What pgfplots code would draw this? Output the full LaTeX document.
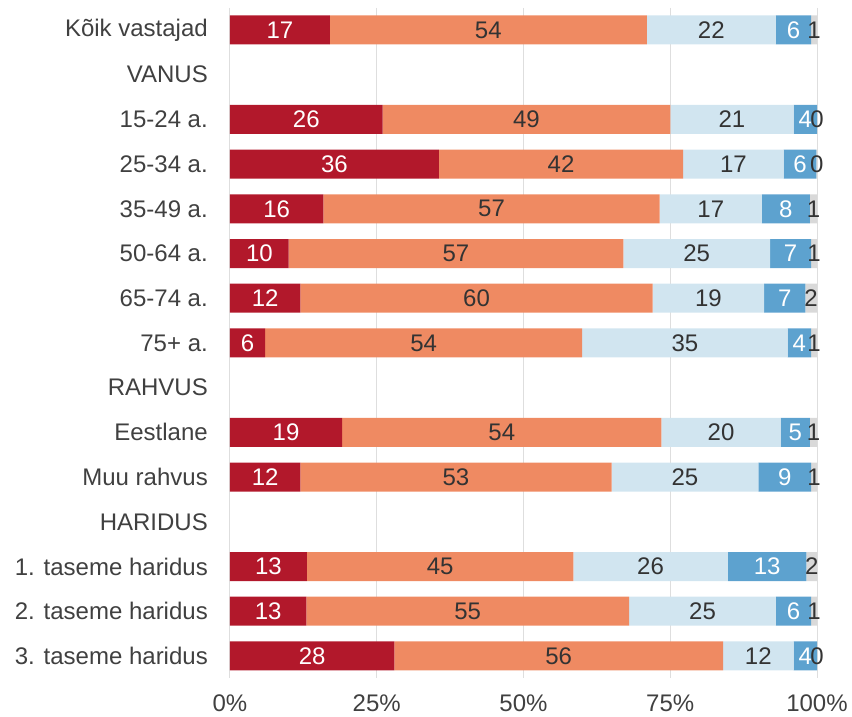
\documentclass[border=0pt]{standalone}
\usepackage{pgfplots}
\pgfplotsset{compat=1.18}
\usepackage{pgfplotstable}
\usepackage{fontspec}
\setmainfont{Liberation Sans}
\definecolor{cRed}{HTML}{B2182B}
\definecolor{cOrange}{HTML}{EF8A62}
\definecolor{cLight}{HTML}{D1E5F0}
\definecolor{cBlue}{HTML}{5DA2CF}
\definecolor{cGray}{HTML}{D9D9D9}
\definecolor{cText}{HTML}{404040}
\definecolor{cDark}{HTML}{333333}
\pgfplotstableread{
row a b c d e
0 17 54 22 6 1
2 26 49 21 4 0
3 35.6 41.6 17.1 5.6 0.1
4 15.9 57.3 17.4 8.2 1.2
5 10 57 25 7 1
6 12 60 19 7 2
7 6 54 35 4 1
9 19.1 54.4 20.3 5.0 1.2
10 12 53 25 9 1
12 13.1 45.4 26.3 13.4 1.8
13 13 55 25 6 1
14 28 56 12 4 0
}\data
\pgfplotsset{
  common/.style={
    at={(0pt,0pt)}, anchor=south west,
    scale only axis, width=587pt, height=670.7pt,
    xmin=0, xmax=100, ymin=-0.5, ymax=14.5, y dir=reverse,
    enlargelimits=false,
  },
  lbl/.style={
    draw=none, mark=none,
    nodes near coords={\pgfmathprintnumber[fixed,precision=0]{\pgfplotspointmeta}},
    point meta=explicit,
    every node near coord/.append style={anchor=center, inner sep=0pt, text=#1,
      font=\fontsize{24}{28}\selectfont},
  },
}
\begin{document}
\begin{tikzpicture}
\path[use as bounding box] (-230pt,-37.7pt) rectangle (622pt,678.3pt);
\begin{axis}[common,
  xbar stacked, bar width=29pt,
  axis line style={draw=none},
  major tick length=0pt,
  xtick={0,25,50,75,100},
  xticklabels={0\%,25\%,50\%,75\%,100\%},
  ytick={0,...,14},
  yticklabels={Kõik vastajad,VANUS,15-24 a.,25-34 a.,35-49 a.,50-64 a.,65-74 a.,75+ a.,RAHVUS,Eestlane,Muu rahvus,HARIDUS,1. taseme haridus,2. taseme haridus,3. taseme haridus},
  tick label style={font=\fontsize{24}{28}\selectfont, text=cText, inner sep=0pt},
  yticklabel style={anchor=east, xshift=-22pt},
  xticklabel style={anchor=north, yshift=-16pt},
  xmajorgrids, grid style={color=black!13, line width=1pt},
]
\addplot[fill=cRed, draw=none] table[x=a, y=row]{\data};
\addplot[fill=cOrange, draw=none] table[x=b, y=row]{\data};
\addplot[fill=cLight, draw=none] table[x=c, y=row]{\data};
\addplot[fill=cBlue, draw=none] table[x=d, y=row]{\data};
\addplot[fill=cGray, draw=none] table[x=e, y=row]{\data};
\end{axis}
\begin{axis}[common, hide axis, /pgf/number format/assume math mode=true]
\addplot[lbl=white] table[x expr=\thisrow{a}/2, y=row, meta=a]{\data};
\addplot[lbl=cDark] table[x expr=\thisrow{a}+\thisrow{b}/2, y=row, meta=b]{\data};
\addplot[lbl=cDark] table[x expr=\thisrow{a}+\thisrow{b}+\thisrow{c}/2, y=row, meta=c]{\data};
\addplot[lbl=white] table[x expr=\thisrow{a}+\thisrow{b}+\thisrow{c}+\thisrow{d}/2, y=row, meta=d]{\data};
\addplot[lbl=cDark] table[x expr=\thisrow{a}+\thisrow{b}+\thisrow{c}+\thisrow{d}+\thisrow{e}/2, y=row, meta=e]{\data};
\end{axis}
\end{tikzpicture}
\end{document}
